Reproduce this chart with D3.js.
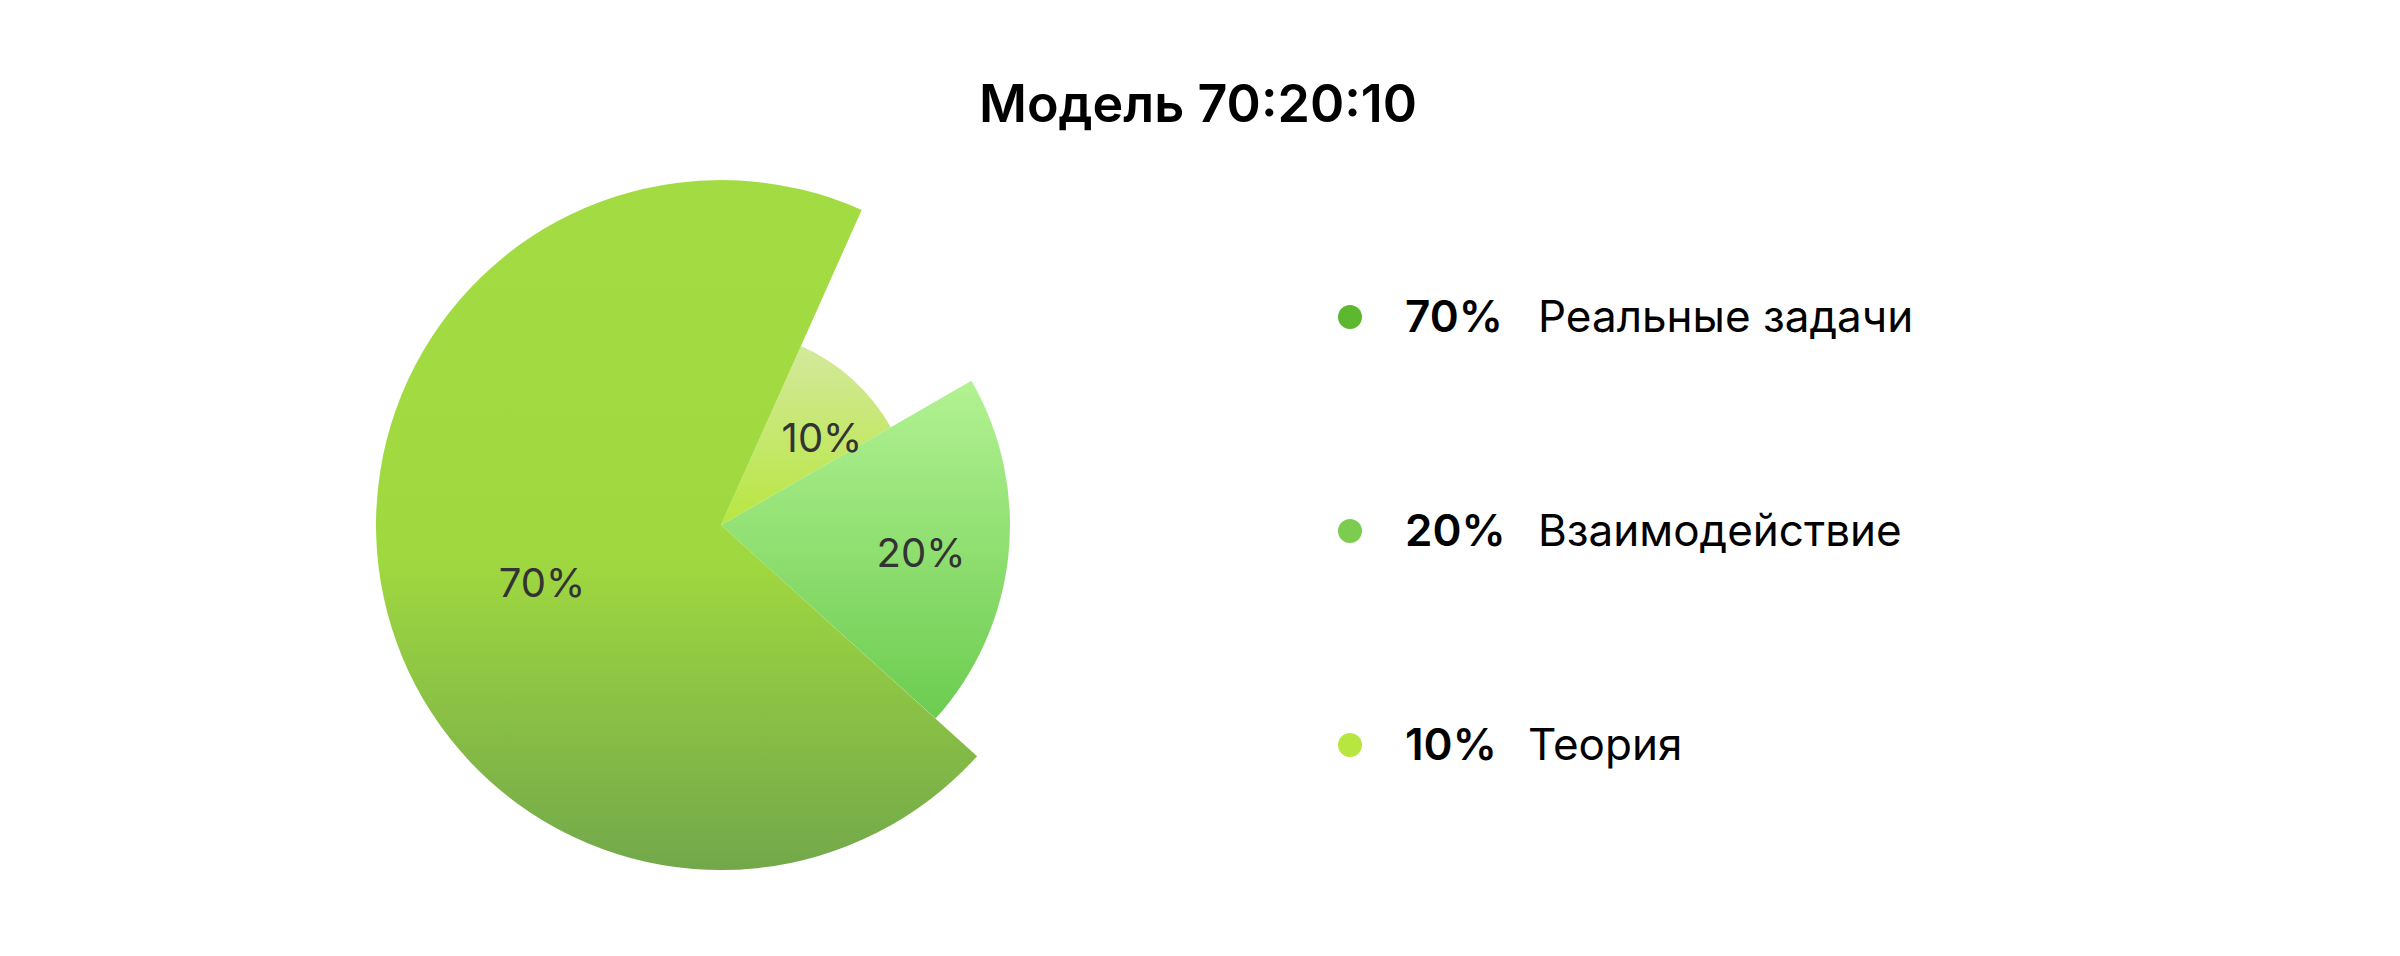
<!DOCTYPE html>
<html><head><meta charset="utf-8">
<script src="https://cdn.jsdelivr.net/npm/d3@7"></script>
<style>body{margin:0;background:#fff;font-family:Inter,"Noto Sans",sans-serif;}</style>
</head><body>
<script>
var w = 2400, h = 956;
var labels = ["Теория", "Взаимодействие", "Реальные задачи"];
var values = [10, 20, 70];
var radii = [196, 289, 345];
var gradTop = ["#d3e99c", "#b2f292", "#a3dc42"];
var gradBottom = ["#b8e640", "#6ccc50", "#72a84a"];
var dotColors = ["#b8e640", "#7ccc50", "#5cb82e"];
var legendOrder = [2, 1, 0];

var svg = d3.select("body").append("svg").attr("width", w).attr("height", h);
var defs = svg.append("defs");
values.forEach(function(v, i) {
    var g = defs.append("linearGradient").attr("id", "g" + i)
        .attr("x1", 0).attr("y1", 0).attr("x2", 0).attr("y2", 1);
    g.append("stop").attr("offset", "0%").attr("stop-color", gradTop[i]);
    g.append("stop").attr("offset", i == 2 ? "55%" : "100%").attr("stop-color", i == 2 ? "#a0d840" : gradBottom[i]);
    if (i == 2) g.append("stop").attr("offset", "100%").attr("stop-color", gradBottom[i]);
});

svg.append("text").attr("x", 1198).attr("y", 122).attr("text-anchor", "middle")
    .attr("font-size", 52).attr("font-weight", 600).text("Модель 70:20:10");

var cx = 721, cy = 525;
var pie = d3.pie().sort(null).startAngle(0.42).endAngle(0.42 + 2 * Math.PI);
var arcs = pie(values);
var g = svg.append("g").attr("transform", "translate(" + cx + "," + cy + ")");
g.selectAll("path").data(arcs).enter().append("path")
    .attr("d", function(d, i) { return d3.arc().innerRadius(0).outerRadius(radii[i])(d); })
    .attr("fill", function(d, i) { return "url(#g" + i + ")"; });

var labelPos = [[101, -84], [200, 31], [-179, 61]];
g.selectAll("text").data(arcs).enter().append("text")
    .attr("x", function(d, i) { return labelPos[i][0]; })
    .attr("y", function(d, i) { return labelPos[i][1]; })
    .attr("text-anchor", "middle").attr("dominant-baseline", "middle")
    .attr("font-size", 40).attr("fill", "#333")
    .text(function(d) { return d.data + "%"; });

var ly = d3.scalePoint().domain(legendOrder).range([317, 745]);
var lg = svg.selectAll(".leg").data(legendOrder).enter().append("g")
    .attr("transform", function(d) { return "translate(1350," + ly(d) + ")"; });
lg.append("circle").attr("r", 12).attr("fill", function(d) { return dotColors[d]; });
lg.append("text").attr("x", 55).attr("dy", "0.35em").attr("font-size", 44).attr("font-weight", 600)
    .text(function(d) { return values[d] + "%"; });
lg.append("text").attr("x", function(d) { return values[d] == 10 ? 178 : 188; }).attr("dy", "0.35em")
    .attr("font-size", 44).text(function(d) { return labels[d]; });
</script>
</body></html>
